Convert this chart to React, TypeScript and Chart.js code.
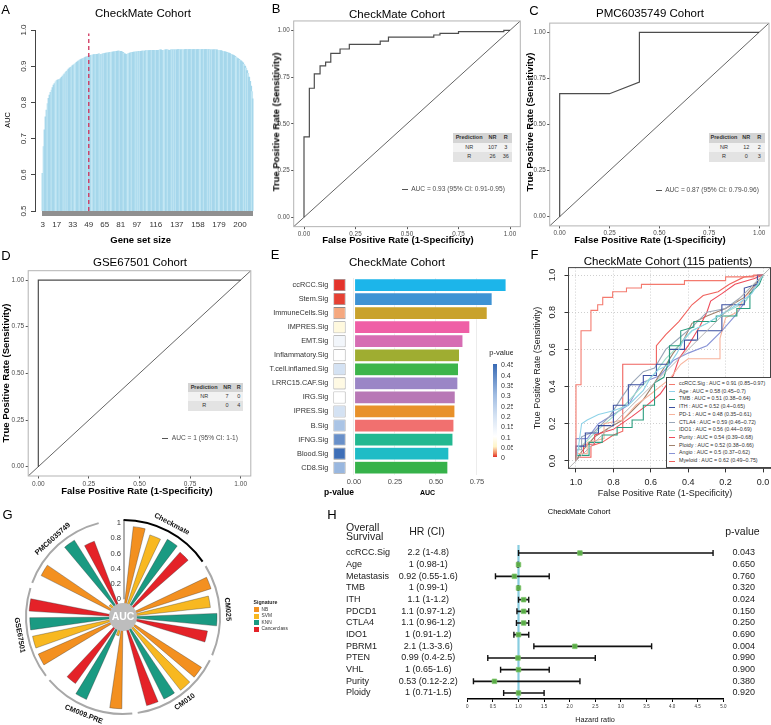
import React, { useEffect, useRef } from "react";
import { Chart, registerables } from "chart.js";

Chart.register(...registerables);

const FONT = '"Liberation Sans", Arial, Helvetica, sans-serif';

/* ---------------- Panel A : AUC by gene set size ---------------- */
const aucBySize = [
  0.604, 0.678, 0.724, 0.760, 0.779, 0.797, 0.811, 0.820, 0.828, 0.834,
  0.841, 0.848, 0.852, 0.857, 0.860, 0.862, 0.863, 0.864, 0.866, 0.869,
  0.873, 0.876, 0.879, 0.883, 0.886, 0.889, 0.892, 0.895, 0.897, 0.899,
  0.902, 0.904, 0.906, 0.908, 0.911, 0.913, 0.915, 0.917, 0.918, 0.920,
  0.921, 0.922, 0.924, 0.925, 0.926, 0.927, 0.928, 0.929, 0.930, 0.931,
  0.931, 0.932, 0.932, 0.933, 0.933, 0.933, 0.934, 0.933, 0.932, 0.933,
  0.934, 0.935, 0.935, 0.936, 0.936, 0.937, 0.937, 0.938, 0.938, 0.939,
  0.939, 0.940, 0.940, 0.941, 0.941, 0.942, 0.942, 0.941, 0.941, 0.940,
  0.938, 0.936, 0.934, 0.933, 0.933, 0.934, 0.935, 0.936, 0.937, 0.938,
  0.938, 0.939, 0.939, 0.940, 0.940, 0.940, 0.941, 0.941, 0.941, 0.942,
  0.942, 0.942, 0.942, 0.943, 0.943, 0.943, 0.943, 0.943, 0.944, 0.944,
  0.944, 0.944, 0.944, 0.944, 0.944, 0.944, 0.944, 0.945, 0.945, 0.944,
  0.944, 0.944, 0.945, 0.945, 0.945, 0.945, 0.944, 0.944, 0.945, 0.945,
  0.945, 0.945, 0.945, 0.945, 0.945, 0.946, 0.946, 0.946, 0.945, 0.945,
  0.945, 0.945, 0.946, 0.946, 0.946, 0.946, 0.946, 0.946, 0.946, 0.946,
  0.946, 0.946, 0.946, 0.946, 0.946, 0.946, 0.946, 0.946, 0.946, 0.946,
  0.946, 0.946, 0.946, 0.946, 0.946, 0.946, 0.946, 0.945, 0.945, 0.945,
  0.945, 0.945, 0.945, 0.945, 0.945, 0.944, 0.944, 0.943, 0.943, 0.942,
  0.941, 0.941, 0.940, 0.939, 0.938, 0.937, 0.936, 0.935, 0.933, 0.932,
  0.931, 0.929, 0.927, 0.925, 0.923, 0.921, 0.919, 0.917, 0.915, 0.912,
  0.909, 0.905, 0.900, 0.895, 0.888, 0.880, 0.870, 0.858, 0.845, 0.830,
  0.810,
];
const geneSetSizes = aucBySize.map((_, i) => i + 3);
const aTickLabels = [3, 17, 33, 49, 65, 81, 97, 116, 137, 158, 179, 200];
const aYTicks = [0.5, 0.6, 0.7, 0.8, 0.9, 1.0];
const aCutoff = 49;
const aCutoffTop = 0.99;

/* ---------------- Panels B, C, D : ROC curves ---------------- */
const rocTicks = [0, 0.25, 0.5, 0.75, 1];
const rocDiag = [[-0.05, -0.05], [1.05, 1.05]];
const bRoc = [
  [0, 0], [0, 0.43], [0.026, 0.43], [0.026, 0.69], [0.05, 0.69], [0.05, 0.767],
  [0.078, 0.767], [0.078, 0.81], [0.105, 0.81], [0.105, 0.83], [0.13, 0.83],
  [0.13, 0.877], [0.175, 0.877], [0.175, 0.9], [0.22, 0.9], [0.22, 0.925],
  [0.37, 0.925], [0.37, 0.942], [0.41, 0.942], [0.41, 0.963], [0.63, 0.963],
  [0.63, 0.975], [0.66, 0.975], [0.66, 0.984], [0.75, 0.984], [0.75, 0.993],
  [0.97, 0.993], [0.97, 1], [1, 1],
];
const cRoc = [[0, 0], [0, 0.667], [0.25, 0.667], [0.4, 0.73], [0.4, 1], [1, 1]];
const dRoc = [[0, 0], [0, 1], [1, 1]];
const bTable = [["Prediction", "NR", "R"], ["NR", "107", "3"], ["R", "26", "36"]];
const cTable = [["Prediction", "NR", "R"], ["NR", "12", "2"], ["R", "0", "3"]];
const dTable = [["Prediction", "NR", "R"], ["NR", "7", "0"], ["R", "0", "4"]];
const bAucText = "AUC = 0.93 (95% CI: 0.91-0.95)";
const cAucText = "AUC = 0.87 (95% CI: 0.79-0.96)";
const dAucText = "AUC = 1 (95% CI: 1-1)";

/* ---------------- Panel E : signature AUCs ---------------- */
const eSigs = [
  "ccRCC.Sig", "Stem.Sig", "ImmuneCells.Sig", "IMPRES.Sig", "EMT.Sig", "Inflammatory.Sig",
  "T.cell.inflamed.Sig", "LRRC15.CAF.Sig", "IRG.Sig", "IPRES.Sig", "B.Sig", "IFNG.Sig",
  "Blood.Sig", "CD8.Sig",
];
const eAuc = [0.928, 0.843, 0.813, 0.707, 0.665, 0.644, 0.638, 0.634, 0.618, 0.616, 0.61, 0.604, 0.579, 0.573];
const eP = [0.001, 0.004, 0.028, 0.07, 0.13, 0.1, 0.2, 0.075, 0.1, 0.2, 0.28, 0.38, 0.44, 0.31];
const eColors = [
  "#1cb5ea", "#3f93d4", "#c9a22c", "#ef5fa6", "#d66db3", "#9fad31", "#3db54a",
  "#9b86c6", "#b878b6", "#e8912a", "#f1706f", "#23b891", "#1fbcc6", "#36b24a",
];
const eXTicks = [0, 0.25, 0.5, 0.75];
const eLegendTicks = [0, 0.05, 0.1, 0.15, 0.2, 0.25, 0.3, 0.35, 0.4, 0.45];
const pStops: [number, number[]][] = [
  [0, [226, 46, 40]], [0.02, [241, 140, 100]], [0.05, [255, 245, 200]], [0.1, [255, 255, 255]],
  [0.2, [212, 226, 243]], [0.3, [160, 188, 226]], [0.45, [56, 106, 180]],
];

/* ---------------- Panel F : multiple ROC ---------------- */
const fNames = ["ccRCC.Sig", "Age", "TMB", "ITH", "PD-1", "CTLA4", "IDO1", "Purity", "Ploidy", "Angio", "Myeloid"];
const fAuc = [0.91, 0.58, 0.51, 0.52, 0.48, 0.59, 0.56, 0.54, 0.52, 0.5, 0.62];
const fLo = [0.85, 0.45, 0.38, 0.4, 0.35, 0.46, 0.44, 0.39, 0.38, 0.37, 0.49];
const fHi = [0.97, 0.7, 0.64, 0.65, 0.61, 0.72, 0.69, 0.68, 0.66, 0.62, 0.75];
const fColors = ["#f47a6e", "#8fd3e8", "#2a9d7f", "#3b4fa0", "#f7b39c", "#9aa7b8", "#9fdfc9", "#ee4b5a", "#a0826d", "#8994d6", "#f0625d"];
const fCcrcc = [[0, 0], [0, 0.41], [0.027, 0.41], [0.027, 0.7], [0.08, 0.7], [0.08, 0.81], [0.116, 0.81], [0.116, 0.84], [0.143, 0.84], [0.143, 0.88], [0.196, 0.88], [0.196, 0.91], [0.27, 0.91], [0.27, 0.93], [0.35, 0.93], [0.35, 0.95], [0.58, 0.95], [0.58, 0.97], [0.8, 0.97], [0.8, 0.99], [0.95, 0.99], [0.95, 1], [1, 1]];
const fAge = [[0, 0], [0.01, 0.05], [0.03, 0.2], [0.06, 0.22], [0.12, 0.25], [0.2, 0.27], [0.28, 0.3], [0.36, 0.38], [0.4, 0.45], [0.44, 0.49], [0.5, 0.52], [0.54, 0.58], [0.58, 0.66], [0.62, 0.7], [0.7, 0.74], [0.78, 0.79], [0.86, 0.84], [0.94, 0.9], [1, 1]];
const fTmb = [[0, 0], [0, 0.03], [0.07, 0.03], [0.07, 0.1], [0.14, 0.1], [0.14, 0.14], [0.22, 0.14], [0.22, 0.18], [0.3, 0.18], [0.3, 0.22], [0.36, 0.22], [0.36, 0.3], [0.42, 0.3], [0.42, 0.42], [0.47, 0.45], [0.5, 0.55], [0.5, 0.62], [0.56, 0.62], [0.56, 0.7], [0.63, 0.72], [0.63, 0.75], [0.75, 0.75], [0.75, 0.78], [0.86, 0.78], [0.86, 0.82], [0.93, 0.82], [0.93, 0.9], [0.98, 0.95], [1, 1]];
const fIth = [[0, 0], [0, 0.08], [0.05, 0.08], [0.05, 0.15], [0.12, 0.15], [0.12, 0.19], [0.2, 0.19], [0.2, 0.3], [0.28, 0.3], [0.28, 0.41], [0.36, 0.41], [0.36, 0.46], [0.43, 0.46], [0.43, 0.52], [0.5, 0.52], [0.5, 0.6], [0.58, 0.6], [0.58, 0.65], [0.65, 0.65], [0.65, 0.7], [0.78, 0.7], [0.78, 0.84], [0.9, 0.84], [0.9, 0.93], [0.97, 0.95], [0.97, 1], [1, 1]];
const fPd1 = [[0, 0], [0, 0.04], [0.06, 0.04], [0.06, 0.1], [0.15, 0.12], [0.15, 0.2], [0.25, 0.22], [0.32, 0.3], [0.4, 0.36], [0.5, 0.44], [0.56, 0.52], [0.6, 0.55], [0.77, 0.55], [0.77, 0.66], [0.8, 0.77], [0.86, 0.8], [0.9, 0.88], [0.95, 0.92], [1, 1]];
const fCtla4 = [[0, 0], [0, 0.06], [0.03, 0.06], [0.03, 0.13], [0.1, 0.16], [0.18, 0.24], [0.25, 0.35], [0.3, 0.42], [0.36, 0.48], [0.42, 0.5], [0.48, 0.6], [0.55, 0.66], [0.62, 0.72], [0.7, 0.8], [0.8, 0.82], [0.88, 0.88], [0.95, 0.95], [1, 1]];
const fIdo1 = [[0, 0], [0, 0.05], [0.05, 0.1], [0.12, 0.17], [0.2, 0.24], [0.28, 0.32], [0.35, 0.4], [0.42, 0.47], [0.48, 0.55], [0.55, 0.62], [0.62, 0.7], [0.7, 0.74], [0.8, 0.8], [0.9, 0.85], [0.95, 0.92], [1, 1]];
const fPurity = [[0, 0], [0, 0.04], [0.04, 0.04], [0.04, 0.09], [0.1, 0.09], [0.1, 0.14], [0.2, 0.17], [0.3, 0.24], [0.38, 0.3], [0.45, 0.36], [0.52, 0.46], [0.55, 0.55], [0.6, 0.62], [0.66, 0.72], [0.7, 0.8], [0.72, 0.86], [0.78, 0.9], [0.85, 0.95], [0.95, 0.98], [1, 1]];
const fPloidy = [[0, 0], [0.03, 0.05], [0.1, 0.13], [0.18, 0.18], [0.25, 0.22], [0.3, 0.27], [0.36, 0.33], [0.42, 0.42], [0.47, 0.5], [0.52, 0.58], [0.58, 0.66], [0.62, 0.74], [0.7, 0.78], [0.8, 0.82], [0.9, 0.88], [1, 1]];
const fAngio = [[0, 0], [0, 0.12], [0.06, 0.12], [0.12, 0.2], [0.2, 0.25], [0.28, 0.3], [0.35, 0.42], [0.45, 0.46], [0.52, 0.54], [0.6, 0.58], [0.7, 0.62], [0.78, 0.7], [0.85, 0.78], [0.9, 0.85], [0.95, 0.93], [1, 1]];
const fMyeloid = [[0, 0], [0, 0.02], [0.08, 0.02], [0.08, 0.08], [0.14, 0.1], [0.2, 0.14], [0.25, 0.16], [0.25, 0.52], [0.43, 0.52], [0.43, 0.62], [0.48, 0.68], [0.55, 0.75], [0.62, 0.84], [0.68, 0.89], [0.76, 0.91], [0.82, 0.95], [0.9, 0.99], [1, 1]];
const fCurves = [fCcrcc, fAge, fTmb, fIth, fPd1, fCtla4, fIdo1, fPurity, fPloidy, fAngio, fMyeloid];
const fTicks = [0, 0.2, 0.4, 0.6, 0.8, 1.0];

/* ---------------- Panel G : circular AUC barplot ---------------- */
const gCohorts = ["Checkmate", "CM025", "CM010", "CM009.PRE", "GSE67501", "PMC6035749"];
const gModels = ["NB", "SVM", "KNN", "Cancerclass"];
const gAucNB = [0.96, 0.98, 0.99, 0.97, 0.98, 0.97];
const gAucSVM = [0.9, 0.92, 0.99, 0.02, 0.98, 0];
const gAucKNN = [0.94, 1.0, 0.97, 0.95, 0.99, 0.96];
const gAucCC = [0.9, 0.89, 0.97, 0.84, 1.0, 0.83];
const gModelColors = ["#f39020", "#f8b820", "#1a9a82", "#e42228"];
const gAxisTicks = [0, 0.2, 0.4, 0.6, 0.8, 1];

/* ---------------- Panel H : forest plot ---------------- */
const hVars = ["ccRCC.Sig", "Age", "Metastasis", "TMB", "ITH", "PDCD1", "CTLA4", "IDO1", "PBRM1", "PTEN", "VHL", "Purity", "Ploidy"];
const hHR = [2.2, 1, 0.92, 1, 1.1, 1.1, 1.1, 1, 2.1, 0.99, 1, 0.53, 1];
const hLo = [1, 0.98, 0.55, 0.99, 1, 0.97, 0.96, 0.91, 1.3, 0.4, 0.65, 0.12, 0.71];
const hHi = [4.8, 1, 1.6, 1, 1.2, 1.2, 1.2, 1.2, 3.6, 2.5, 1.6, 2.2, 1.5];
const hP = ["0.043", "0.650", "0.760", "0.320", "0.024", "0.150", "0.250", "0.690", "0.004", "0.990", "0.900", "0.380", "0.920"];
const hRef = 1;

/* ================= helpers ================= */
const base = (padding: any, plug: any = {}) => ({
  animation: false,
  responsive: false,
  maintainAspectRatio: false,
  events: [],
  layout: { padding },
  plugins: { legend: { display: false }, tooltip: { enabled: false }, title: { display: false }, ...plug },
});

const framePlugin = {
  id: "frame",
  afterDatasetsDraw(chart: any, _a: any, opts: any) {
    const { ctx, chartArea: a } = chart;
    ctx.save();
    ctx.strokeStyle = opts.color || "#999";
    ctx.lineWidth = opts.width || 1;
    ctx.strokeRect(a.left, a.top, a.right - a.left, a.bottom - a.top);
    ctx.restore();
  },
};

const rotYPlugin = {
  id: "rotY",
  afterDraw(chart: any, _a: any, opts: any) {
    const s = chart.scales.y;
    const ctx = chart.ctx;
    ctx.save();
    ctx.font = `${opts.size}px ${FONT}`;
    ctx.fillStyle = opts.color;
    ctx.textAlign = "center";
    ctx.textBaseline = "middle";
    for (const t of s.ticks) {
      const py = s.getPixelForValue(t.value);
      ctx.save();
      ctx.translate(opts.x, py);
      ctx.rotate(-Math.PI / 2);
      ctx.fillText(Number(t.value).toFixed(opts.dec), 0, 0);
      ctx.restore();
    }
    ctx.restore();
  },
};

function pColor(p: number) {
  for (let i = 1; i < pStops.length; i++) {
    const [p1, c1] = pStops[i];
    const [p0, c0] = pStops[i - 1];
    if (p <= p1) {
      const t = (p - p0) / (p1 - p0);
      return `rgb(${c0.map((c, k) => Math.round(c + (c1[k] - c) * t)).join(",")})`;
    }
  }
  const last = pStops[pStops.length - 1][1];
  return `rgb(${last.join(",")})`;
}

const aStripe = (i: number) => (i % 4 === 1 || i % 9 === 5 ? "#c4e7f4" : "#a6d7eb");

/* ================= configs ================= */
const aConfig = () => ({
  type: "bar",
  data: {
    datasets: [
      {
        type: "line",
        data: [{ x: aCutoff, y: 0.5 }, { x: aCutoff, y: aCutoffTop }],
        borderColor: "#d0315a",
        borderWidth: 1.3,
        borderDash: [4, 3],
        pointRadius: 0,
        order: 0,
      },
      {
        type: "bar",
        data: geneSetSizes.map((s, i) => ({ x: s, y: aucBySize[i] })),
        backgroundColor: geneSetSizes.map((_, i) => aStripe(i)),
        borderWidth: 0,
        barThickness: 1.6,
        order: 1,
      },
    ],
  },
  options: {
    ...base({ left: 0, top: 30, right: 3.5, bottom: 0 }, { rotY: { x: 23.5, size: 8, color: "#333", dec: 1 } }),
    scales: {
      x: {
        type: "linear", min: -4.7, max: 213.5, offset: false,
        afterBuildTicks: (s: any) => { s.ticks = geneSetSizes.map((v) => ({ value: v })); },
        ticks: {
          autoSkip: false, maxRotation: 0, minRotation: 0,
          callback: (v: any) => (aTickLabels.includes(v) ? String(v) : ""),
          font: { family: FONT, size: 8 }, color: "#333", padding: 4,
        },
        grid: { drawOnChartArea: false, offset: false, tickLength: 5, color: "rgba(70,70,70,0.6)" },
        border: { display: false },
        afterFit: (s: any) => { s.height = 34; },
      },
      y: {
        min: 0.5, max: 1,
        afterBuildTicks: (s: any) => { s.ticks = aYTicks.map((v) => ({ value: v })); },
        ticks: { display: false },
        grid: { drawOnChartArea: false, tickLength: 4, color: "#444" },
        border: { display: true, color: "#444" },
        afterFit: (s: any) => { s.width = 35; },
      },
    },
  },
  plugins: [rotYPlugin],
});

const rocConfig = (curve: number[][], area: any, W: number, H: number, fs: number) => () => ({
  type: "scatter",
  data: {
    datasets: [
      { data: rocDiag.map(([x, y]) => ({ x, y })), showLine: true, borderColor: "#222", borderWidth: 0.7, pointRadius: 0 },
      { data: curve.map(([x, y]) => ({ x, y })), showLine: true, borderColor: "#4d4d4d", borderWidth: 1.2, pointRadius: 0 },
    ],
  },
  options: {
    ...base({ left: 0, top: area.t, right: W - area.r, bottom: 0 }, { frame: { color: "#b3b3b3", width: 1 } }),
    scales: {
      x: {
        type: "linear", min: -0.05, max: 1.05,
        afterBuildTicks: (s: any) => { s.ticks = rocTicks.map((v) => ({ value: v })); },
        ticks: { callback: (v: any) => Number(v).toFixed(2), font: { family: FONT, size: fs }, color: "#4d4d4d", padding: 1.5, maxRotation: 0, autoSkip: false },
        grid: { drawOnChartArea: false, tickLength: 2.5, color: "#555" },
        border: { display: false },
        afterFit: (s: any) => { s.height = H - area.b; },
      },
      y: {
        type: "linear", min: -0.05, max: 1.05,
        afterBuildTicks: (s: any) => { s.ticks = rocTicks.map((v) => ({ value: v })); },
        ticks: { callback: (v: any) => Number(v).toFixed(2), font: { family: FONT, size: fs }, color: "#4d4d4d", padding: 1.5 },
        grid: { drawOnChartArea: false, tickLength: 2.5, color: "#555" },
        border: { display: false },
        afterFit: (s: any) => { s.width = area.l; },
      },
    },
  },
  plugins: [framePlugin],
});

const bConfig = rocConfig(bRoc, { l: 38.7, t: 20.95, r: 265.3, b: 226.65 }, 266, 245, 6.3);
const cConfig = rocConfig(cRoc, { l: 36.7, t: 23.1, r: 256, b: 225.9 }, 258, 245, 6.3);
const dConfig = rocConfig(dRoc, { l: 28.2, t: 25.7, r: 250.8, b: 231 }, 257, 255, 6.5);

const E_XMIN = -0.126;
const E_XMAX = 0.9695;
const E_TILE = [-0.126, -0.051];

const eConfig = () => ({
  type: "bar",
  data: {
    labels: eSigs,
    datasets: [
      {
        data: eSigs.map(() => E_TILE),
        backgroundColor: eP.map(pColor),
        borderColor: "#8c8c8c", borderWidth: 0.8, borderSkipped: false,
        grouped: false, barPercentage: 0.86, categoryPercentage: 1,
      },
      {
        data: eAuc,
        backgroundColor: eColors,
        borderColor: "rgba(255,255,255,0.9)", borderWidth: 0.6, borderSkipped: false,
        grouped: false, barPercentage: 0.92, categoryPercentage: 1,
      },
    ],
  },
  options: {
    ...base({ left: 0, top: 33, right: 0, bottom: 0 }),
    indexAxis: "y",
    scales: {
      x: {
        type: "linear", min: E_XMIN, max: E_XMAX,
        afterBuildTicks: (s: any) => { s.ticks = eXTicks.map((v) => ({ value: v })); },
        ticks: { callback: (v: any) => Number(v).toFixed(2), font: { family: FONT, size: 7.5 }, color: "#4d4d4d", padding: 3, maxRotation: 0 },
        grid: { color: "#ececec", drawTicks: false },
        border: { display: false },
        afterFit: (s: any) => { s.height = 15.3; },
      },
      y: {
        ticks: { font: { family: FONT, size: 7.3 }, color: "#333", padding: 5 },
        grid: { display: false, drawTicks: false },
        border: { display: false },
        afterFit: (s: any) => { s.width = 78.3; },
      },
    },
  },
});

const fConfig = () => ({
  type: "scatter",
  data: {
    datasets: [
      { data: [{ x: 1.04, y: -0.04 }, { x: -0.04, y: 1.04 }], showLine: true, borderColor: "#b5b5b5", borderWidth: 1, pointRadius: 0 },
      ...fCurves.map((c, k) => ({
        data: c.map(([fpr, tpr]) => ({ x: 1 - fpr, y: tpr })),
        showLine: true, borderColor: fColors[k], borderWidth: 1.1, pointRadius: 0,
      })),
    ],
  },
  options: {
    ...base({ left: 0, top: 22.6, right: 0.5, bottom: 0 }, { frame: { color: "#444", width: 1 }, rotY: { x: 40, size: 9, color: "#222", dec: 1 } }),
    scales: {
      x: {
        type: "linear", reverse: true, min: -0.04, max: 1.04,
        afterBuildTicks: (s: any) => { s.ticks = fTicks.map((v) => ({ value: v })); },
        ticks: { callback: (v: any) => Number(v).toFixed(1), font: { family: FONT, size: 9 }, color: "#222", padding: 5, maxRotation: 0 },
        grid: { color: "#cfcfcf", tickColor: "#333", tickLength: 4, tickBorderDash: [] },
        border: { display: false, dash: [1, 2] },
        afterFit: (s: any) => { s.height = 31.6; },
      },
      y: {
        type: "linear", min: -0.04, max: 1.04,
        afterBuildTicks: (s: any) => { s.ticks = fTicks.map((v) => ({ value: v })); },
        ticks: { display: false },
        grid: { color: "#cfcfcf", tickColor: "#333", tickLength: 4, tickBorderDash: [] },
        border: { display: false, dash: [1, 2] },
        afterFit: (s: any) => { s.width = 55.5; },
      },
    },
  },
  plugins: [framePlugin, rotYPlugin],
});

/* --- G --- */
const G_NSLOTS = 31;
const G_SLOT = 360 / G_NSLOTS;
const G_BAR = 7.6;
const G_OFFSET = -1.3;
const G_RMIN = -0.232;
const G_ARC_R = 97;
const G_LABEL_R = 105;
const gAucByModel = [gAucNB, gAucSVM, gAucKNN, gAucCC];
const gSlotCenter = (i: number) => i * G_SLOT + G_OFFSET;

const gSegs: any[] = [];
for (let i = 0; i < G_NSLOTS; i++) {
  const gi = Math.floor(i / 5);
  const k = (i % 5) - 1;
  const isBar = i % 5 !== 0 && gi < gCohorts.length;
  gSegs.push({
    v: isBar ? gAucByModel[k][gi] : 0,
    c: isBar ? gModelColors[k] : "rgba(0,0,0,0)",
    a: G_BAR,
    bar: isBar,
  });
  gSegs.push({ v: 0, c: "rgba(0,0,0,0)", a: G_SLOT - G_BAR, bar: false });
}

const gPlugin = {
  id: "gDecor",
  afterDatasetsDraw(chart: any) {
    const s = chart.scales.r;
    const ctx = chart.ctx;
    const cx = s.xCenter;
    const cy = s.yCenter;
    const rad = (deg: number) => ((deg - 90) * Math.PI) / 180;
    ctx.save();
    gCohorts.forEach((name, gi) => {
      const first = gSlotCenter(1 + gi * 5);
      const last = gSlotCenter(4 + gi * 5);
      ctx.beginPath();
      ctx.arc(cx, cy, G_ARC_R, rad(first - 10), rad(last + 10));
      ctx.strokeStyle = gi === 0 ? "#000" : "#a8a8a8";
      ctx.lineWidth = 2;
      ctx.stroke();
      const mid = (first + last) / 2;
      const th = (mid * Math.PI) / 180;
      const px = cx + G_LABEL_R * Math.sin(th);
      const py = cy - G_LABEL_R * Math.cos(th);
      const rot = mid > 90 && mid < 270 ? mid - 180 : mid;
      ctx.save();
      ctx.translate(px, py);
      ctx.rotate((rot * Math.PI) / 180);
      ctx.textAlign = "center";
      ctx.textBaseline = "middle";
      ctx.font = `bold 7.3px ${FONT}`;
      ctx.fillStyle = "#111";
      ctx.fillText(name, 0, 0);
      ctx.restore();
    });
    // radial axis
    const r0 = s.getDistanceFromCenterForValue(0);
    const r1 = s.getDistanceFromCenterForValue(1);
    ctx.beginPath();
    ctx.moveTo(cx + 1, cy - r0);
    ctx.lineTo(cx + 1, cy - r1 - 3);
    ctx.strokeStyle = "#333";
    ctx.lineWidth = 0.8;
    ctx.stroke();
    ctx.font = `7.6px ${FONT}`;
    ctx.fillStyle = "#333";
    ctx.textAlign = "right";
    ctx.textBaseline = "middle";
    gAxisTicks.forEach((v) => {
      ctx.fillText(String(v), cx - 2, cy - s.getDistanceFromCenterForValue(v));
    });
    // center disc
    ctx.beginPath();
    ctx.arc(cx, cy, 14, 0, Math.PI * 2);
    ctx.fillStyle = "#bdbdbd";
    ctx.fill();
    ctx.font = `bold 10.5px ${FONT}`;
    ctx.fillStyle = "#fff";
    ctx.textAlign = "center";
    ctx.fillText("AUC", cx, cy + 0.5);
    ctx.restore();
  },
};

const gConfig = () => ({
  type: "polarArea",
  data: {
    labels: gSegs.map((_, i) => String(i)),
    datasets: [
      {
        data: gSegs.map((s) => s.v),
        backgroundColor: gSegs.map((s) => s.c),
        borderColor: "rgba(40,40,40,0.55)",
        borderWidth: gSegs.map((s) => (s.bar ? 0.6 : 0)),
        angle: gSegs.map((s) => s.a),
      },
    ],
  },
  options: {
    ...base(26),
    scales: { r: { display: false, min: G_RMIN, max: 1, startAngle: G_OFFSET - G_BAR / 2 } },
  },
  plugins: [gPlugin],
});

/* --- H --- */
const H_YMIN = -0.686;
const H_YMAX = 12.514;
const hLabel = (i: number) => `${hHR[i]} (${hLo[i]}-${hHi[i]})`;

const hTextPlugin = {
  id: "hText",
  afterDraw(chart: any) {
    const y = chart.scales.y;
    const ctx = chart.ctx;
    ctx.save();
    ctx.font = `9px ${FONT}`;
    ctx.fillStyle = "#1a1a1a";
    ctx.textBaseline = "middle";
    hVars.forEach((v, i) => {
      const py = y.getPixelForValue(i);
      ctx.textAlign = "left";
      ctx.fillText(v, 91, py);
      ctx.textAlign = "center";
      ctx.fillText(hLabel(i), 173.3, py);
      ctx.textAlign = "right";
      ctx.fillText(hP[i], 500, py);
    });
    ctx.restore();
  },
};

const hConfig = () => {
  const whisk: any[] = [];
  hVars.forEach((_, i) => {
    whisk.push({ x: hLo[i], y: i }, { x: hHi[i], y: i }, { x: NaN, y: NaN });
  });
  return {
    type: "scatter",
    data: {
      datasets: [
        {
          type: "line", data: [{ x: hRef, y: H_YMIN }, { x: hRef, y: H_YMAX }],
          borderColor: "#88cde0", borderWidth: 2.2, pointRadius: 0, order: 3,
        },
        {
          type: "line", data: whisk, borderColor: "#111", borderWidth: 1.7, spanGaps: false,
          pointStyle: "line", pointRotation: 90, pointRadius: 3, pointBorderWidth: 1.4,
          pointBorderColor: "#111", pointBackgroundColor: "#111", order: 2,
        },
        {
          type: "scatter", data: hHR.map((v, i) => ({ x: v, y: i })), pointStyle: "rect",
          pointRadius: 3.2, backgroundColor: "#5aab47", borderColor: "#7cc46a", borderWidth: 0.8, order: 1,
        },
      ],
    },
    options: {
      ...base({ left: 212.3, top: 65, right: 47.7, bottom: 0 }),
      scales: {
        x: {
          type: "linear", min: 0, max: 5,
          ticks: { stepSize: 0.5, font: { family: FONT, size: 4.5 }, color: "#333", padding: 2, maxRotation: 0, autoSkip: false },
          grid: { drawOnChartArea: false, tickLength: 3, color: "#000" },
          border: { display: true, color: "#000", width: 1.4 },
          afterFit: (s: any) => { s.height = 26; },
        },
        y: { type: "linear", display: false, reverse: true, min: H_YMIN, max: H_YMAX },
      },
    },
    plugins: [hTextPlugin],
  };
};

/* ================= components ================= */
function ChartBox({ left, top, width, height, config, bg }: any) {
  const ref = useRef<HTMLCanvasElement>(null);
  useEffect(() => {
    const chart = new Chart(ref.current as HTMLCanvasElement, config() as any);
    return () => chart.destroy();
  }, []);
  return (
    <div style={{ position: "absolute", left, top, width, height, background: bg }}>
      <canvas ref={ref} width={width} height={height} style={{ display: "block", width, height }} />
    </div>
  );
}

function Txt({ t, x, y, s, b, c, r, a }: any) {
  const tx = a === "l" ? "0" : a === "r" ? "-100%" : "-50%";
  return (
    <div
      style={{
        position: "absolute", left: x, top: y, fontSize: s, fontWeight: b ? 700 : 400,
        color: c || "#000", whiteSpace: "nowrap", lineHeight: 1, fontFamily: FONT,
        transform: `translate(${tx},-50%)${r ? ` rotate(${r}deg)` : ""}`,
      }}
    >
      {t}
    </div>
  );
}

function ConfTable({ x, y, cols, rowH, rows }: any) {
  const bgs = ["#d4d4d4", "#f2f2f2", "#e3e3e3"];
  return (
    <div style={{ position: "absolute", left: x, top: y }}>
      {rows.map((r: string[], ri: number) => (
        <div key={ri} style={{ display: "flex", height: rowH, background: bgs[ri] }}>
          {r.map((c, ci) => (
            <div key={ci} style={{ width: cols[ci], textAlign: "center", fontSize: 5.5, lineHeight: `${rowH}px`, fontWeight: ri === 0 ? 700 : 400, color: "#333", fontFamily: FONT }}>
              {c}
            </div>
          ))}
        </div>
      ))}
    </div>
  );
}

function AucKey({ x, y, text }: any) {
  return (
    <>
      <div style={{ position: "absolute", left: x, top: y - 0.5, width: 6, height: 1, background: "#555" }} />
      <Txt t={text} x={x + 9.5} y={y} s={6.6} c="#4d4d4d" a="l" />
    </>
  );
}

export default function App() {
  const texts: any[] = [
    // panel letters
    { t: "A", x: 5.5, y: 8.5, s: 13 }, { t: "B", x: 276, y: 8, s: 13 }, { t: "C", x: 534, y: 10, s: 13 },
    { t: "D", x: 6, y: 255, s: 13 }, { t: "E", x: 275, y: 254, s: 13 }, { t: "F", x: 534.5, y: 254, s: 13 },
    { t: "G", x: 7.5, y: 514, s: 13 }, { t: "H", x: 332, y: 513.5, s: 13 },
    // titles
    { t: "CheckMate Cohort", x: 143, y: 14, s: 11.5 },
    { t: "CheckMate Cohort", x: 397, y: 15, s: 11.5 },
    { t: "PMC6035749 Cohort", x: 650, y: 14, s: 11.5 },
    { t: "GSE67501 Cohort", x: 140, y: 263, s: 11.5 },
    { t: "CheckMate Cohort", x: 397, y: 263, s: 11.5 },
    { t: "CheckMate Cohort (115 patients)", x: 668, y: 262, s: 11.5 },
    { t: "CheckMate Cohort", x: 579, y: 512, s: 7.5 },
    // A axis titles
    { t: "Gene set size", x: 140.7, y: 240, s: 9.5, b: true },
    { t: "AUC", x: 7.5, y: 120, s: 7.3, r: -90 },
    // B/C/D axis titles
    { t: "True Positive Rate (Sensitivity)", x: 275.5, y: 122, s: 9.5, b: true, r: -90 },
    { t: "False Positive Rate (1-Specificity)", x: 398, y: 239.5, s: 9.5, b: true },
    { t: "True Positive Rate (Sensitivity)", x: 529.5, y: 122, s: 9.5, b: true, r: -90 },
    { t: "False Positive Rate (1-Specificity)", x: 650, y: 239.5, s: 9.5, b: true },
    { t: "True Positive Rate (Sensitivity)", x: 6, y: 373, s: 9.5, b: true, r: -90 },
    { t: "False Positive Rate (1-Specificity)", x: 137, y: 490.5, s: 9.5, b: true },
    // E axis titles
    { t: "p-value", x: 339, y: 492, s: 8.5, b: true },
    { t: "AUC", x: 427.5, y: 492, s: 7, b: true },
    // F axis titles
    { t: "True Positive Rate (Sensitivity)", x: 537, y: 368, s: 9, r: -90, c: "#222" },
    { t: "False Positive Rate (1-Specificity)", x: 665, y: 493, s: 9, c: "#222" },
    // H headers
    { t: "Overall", x: 346, y: 526.5, s: 10.5, a: "l", c: "#1a1a1a" },
    { t: "Survival", x: 346, y: 535.5, s: 10.5, a: "l", c: "#1a1a1a" },
    { t: "HR (CI)", x: 427, y: 531, s: 10.5, c: "#1a1a1a" },
    { t: "p-value", x: 742.5, y: 531, s: 10.5, c: "#1a1a1a" },
    { t: "Hazard ratio", x: 595, y: 720, s: 7.3, c: "#1a1a1a" },
  ];

  const gradStops = pStops
    .map(([p, c]) => `rgb(${c.join(",")}) ${((p / 0.45) * 100).toFixed(1)}%`)
    .join(", ");

  return (
    <div style={{ position: "fixed", left: 0, top: 0, width: 771, height: 725, overflow: "hidden", background: "#fff", fontFamily: FONT }}>
      <ChartBox left={0} top={0} width={257} height={245} config={aConfig} />
      <ChartBox left={255} top={0} width={266} height={245} config={bConfig} />
      <ChartBox left={513} top={0} width={258} height={245} config={cConfig} />
      <ChartBox left={0} top={245} width={257} height={255} config={dConfig} />
      <ChartBox left={255} top={245} width={258} height={245} config={eConfig} />

      {/* E colour legend */}
      <Txt t="p-value" x={489.3} y={352.7} s={7.5} a="l" c="#222" />
      <div style={{ position: "absolute", left: 492.7, top: 364.3, width: 4, height: 93, background: `linear-gradient(to top, ${gradStops})` }} />
      {eLegendTicks.map((p) => (
        <Txt key={p} t={String(p)} x={501} y={457.3 - (p / 0.45) * 93} s={7} a="l" c="#333" />
      ))}

      <ChartBox left={513} top={245} width={258} height={255} config={fConfig} bg="#fff" />
      <ChartBox left={3} top={497} width={240} height={240} config={gConfig} />
      <ChartBox left={255} top={480} width={516} height={245} config={hConfig} />

      {texts.map((d, i) => (
        <Txt key={i} {...d} />
      ))}

      {/* confusion tables */}
      <ConfTable x={453.3} y={133.3} cols={[31.7, 15, 11.7]} rowH={9.5} rows={bTable} />
      <ConfTable x={709} y={133.3} cols={[30, 14.7, 11]} rowH={9.5} rows={cTable} />
      <ConfTable x={188.3} y={383.3} cols={[31.7, 14.3, 9]} rowH={9.1} rows={dTable} />
      <AucKey x={401.7} y={189} text={bAucText} />
      <AucKey x={655.7} y={190} text={cAucText} />
      <AucKey x={162.3} y={438.3} text={dAucText} />

      {/* F legend */}
      <div style={{ position: "absolute", left: 666, top: 377, width: 106, height: 91, border: "1px solid #444", background: "#fff", boxSizing: "border-box" }} />
      {fNames.map((n, k) => (
        <React.Fragment key={n}>
          <div style={{ position: "absolute", left: 669, top: 384 + k * 7.7 - 0.5, width: 6, height: 1, background: fColors[k] }} />
          <Txt t={`${n} : AUC = ${fAuc[k]} (${fLo[k]}~${fHi[k]})`} x={679} y={384 + k * 7.7} s={5.3} a="l" c="#333" />
        </React.Fragment>
      ))}

      {/* G legend */}
      <Txt t="Signature" x={253.5} y={602.5} s={5.2} b a="l" c="#222" />
      {gModels.map((m, k) => (
        <React.Fragment key={m}>
          <div style={{ position: "absolute", left: 253.5, top: 607 + k * 6.6, width: 5, height: 5, background: gModelColors[k] }} />
          <Txt t={m} x={261.5} y={609.5 + k * 6.6} s={4.8} a="l" c="#333" />
        </React.Fragment>
      ))}
    </div>
  );
}
